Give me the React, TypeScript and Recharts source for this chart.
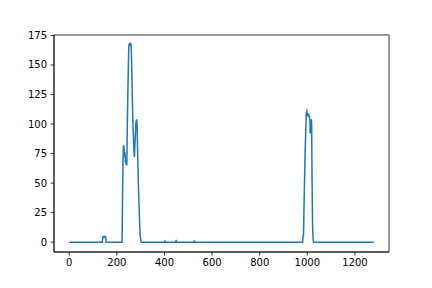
import React from "react";
import { LineChart, Line, XAxis, YAxis, ReferenceArea } from "recharts";

const xs: number[] = [
  0, 138, 139, 141, 143, 146, 149, 151, 153, 155,
  222, 224, 226, 228, 230, 232, 234, 236, 238, 240, 242,
  244, 247, 250, 252, 254, 256, 258, 260, 262, 265, 268, 272,
  274, 277, 280, 283, 285, 288, 291, 295, 298, 302,
  402, 403, 404, 448, 449, 450, 524, 525, 526,
  980, 982, 984, 986, 990, 994, 996, 998, 1000, 1003, 1006, 1009,
  1011, 1012, 1013, 1014, 1015, 1016, 1017, 1018, 1020, 1022, 1024, 1026,
  1279,
];
const ys: number[] = [
  0, 0, 0, 5, 4, 5, 5, 4, 5, 0,
  0, 40, 70, 82, 80, 72, 76, 68, 67, 70, 65,
  100, 135, 165, 168, 166, 168, 167, 168, 152, 122, 97, 77,
  72, 88, 101, 104, 98, 70, 45, 20, 6, 0,
  0, 1.5, 0, 0, 2, 0, 0, 1.5, 0,
  0, 5, 6, 30, 70, 100, 110, 111, 108, 107, 108, 105,
  104, 92, 104, 95, 104, 93, 104, 100, 50, 15, 3, 0,
  0,
];

const xTicks: number[] = [0, 200, 400, 600, 800, 1000, 1200];
const yTicks: number[] = [0, 25, 50, 75, 100, 125, 150, 175];

const data = xs.map((x, i) => ({ x, y: ys[i] }));

const X_DOMAIN: [number, number] = [-63.95, 1342.95];
const Y_DOMAIN: [number, number] = [-8.35, 175.35];

const tickStyle = { fontFamily: "DejaVu Sans", fontSize: 10, fill: "#000" };

export default function App() {
  return (
    <div style={{ position: "absolute", left: 0, top: 0, width: 432, height: 288, background: "#fff" }}>
      <LineChart
        width={432}
        height={288}
        data={data}
        margin={{ top: 35, right: 43, left: 0, bottom: 0 }}
      >
        <XAxis
          dataKey="x"
          type="number"
          domain={X_DOMAIN}
          ticks={xTicks}
          allowDataOverflow
          height={36}
          tickSize={3.5}
          tickMargin={3.5}
          tick={tickStyle}
          axisLine={{ stroke: "#000", strokeWidth: 0.8 }}
          tickLine={{ stroke: "#000", strokeWidth: 0.8 }}
          interval={0}
        />
        <YAxis
          type="number"
          domain={Y_DOMAIN}
          ticks={yTicks}
          allowDataOverflow
          width={54}
          tickSize={3.5}
          tickMargin={3.5}
          tick={tickStyle}
          axisLine={{ stroke: "#000", strokeWidth: 0.8 }}
          tickLine={{ stroke: "#000", strokeWidth: 0.8 }}
          interval={0}
        />
        <ReferenceArea
          x1={X_DOMAIN[0]}
          x2={X_DOMAIN[1]}
          y1={Y_DOMAIN[0]}
          y2={Y_DOMAIN[1]}
          fill="none"
          stroke="#000"
          strokeWidth={0.8}
          ifOverflow="visible"
        />
        <Line
          dataKey="y"
          type="linear"
          stroke="#1f77b4"
          strokeWidth={1.5}
          dot={false}
          isAnimationActive={false}
        />
      </LineChart>
    </div>
  );
}
